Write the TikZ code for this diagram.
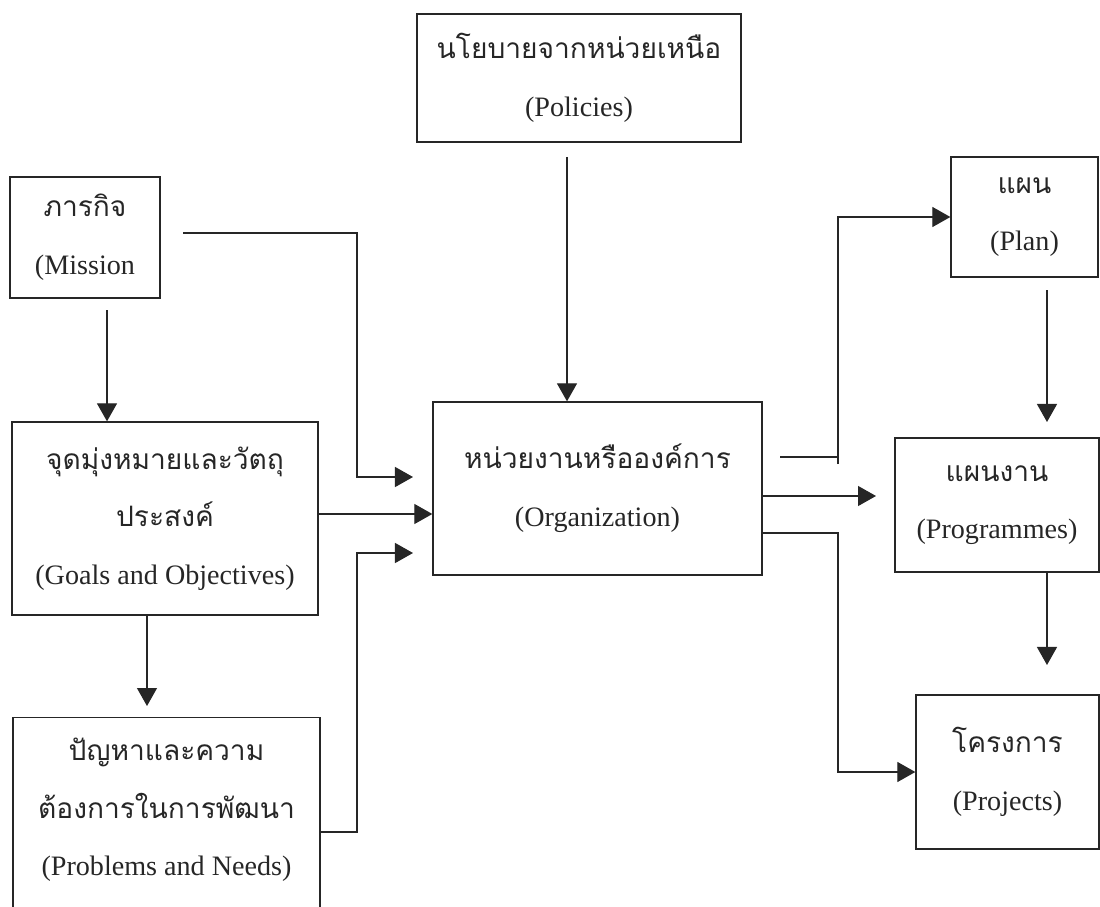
\documentclass[tikz,border=0pt]{standalone}
\usepackage{fontspec}
\setmainfont{Liberation Serif}
\newfontfamily\thaifont[Script=Thai]{Loma}
\usetikzlibrary{arrows.meta}
\tikzset{
  box/.style={draw, inner sep=0pt, align=center, font=\fontsize{20}{41}\selectfont},
  arr/.style={-{Triangle[length=0.45cm,width=0.5cm]}}
}
\begin{document}
\begin{tikzpicture}[x=0.025cm, y=-0.025cm, line width=0.9pt, color=black!85]
      \useasboundingbox (0,0) rectangle (1100,907);
      \node[box, minimum width=8.1cm, minimum height=3.2cm] (pol) at (579,78)
        {{\thaifont นโยบายจากหน่วยเหนือ}\\(Policies)};
      \node[box, minimum width=8.225cm, minimum height=4.325cm] (org) at (597.5,488.5)
        {{\thaifont หน่วยงานหรือองค์การ}\\(Organization)};
      \node[box, minimum width=3.75cm, minimum height=3.025cm] (mis) at (85,237.5)
        {{\thaifont ภารกิจ}\\(Mission};
      \node[box, minimum width=7.65cm, minimum height=4.825cm] (goal) at (165,518.5)
        {{\thaifont จุดมุ่งหมายและวัตถุ}\\{\thaifont ประสงค์}\\(Goals and Objectives)};
      \node[box, minimum width=7.675cm, anchor=north, text height=3.95cm, text depth=2cm] (prob) at (166.5,717)
        {{\thaifont ปัญหาและความ}\\{\thaifont ต้องการในการพัฒนา}\\(Problems and Needs)};
      \node[box, minimum width=3.675cm, minimum height=3cm] (plan) at (1024.5,217)
        {{\thaifont แผน}\\(Plan)};
      \node[box, minimum width=5.1cm, minimum height=3.35cm] (prog) at (997,505)
        {{\thaifont แผนงาน}\\(Programmes)};
      \node[box, minimum width=4.575cm, minimum height=3.85cm] (proj) at (1007.5,772)
        {{\thaifont โครงการ}\\(Projects)};
      \coordinate (polout) at (567,157);
      \coordinate (misout) at (183,233);
      \coordinate (misdown) at (107,310);
      \coordinate (probin) at (147,706);
      \coordinate (orgin1) at (413,477);
      \coordinate (orgin3) at (413,553);
      \coordinate (orgup) at (780,457);
      \coordinate (progin) at (876,496);
      \coordinate (planout) at (1047,290);
      \coordinate (progtop) at (1047,422);
      \coordinate (projtop) at (1047,665);
      \begin{scope}[arr]
        \draw (polout) to (org.north -| polout);
        \draw (misdown) to (goal.north -| misdown);
        \draw (goal.south -| probin) to (probin);
        \draw (misout) -| (357,477) -- (orgin1);
        \draw (goal.east |- 0,514) to (org.west |- 0,514);
        \draw (prob.east |- 0,832) -| (357,553) -- (orgin3);
        \draw (838,464) |- (plan.west);
        \draw (org.east |- progin) to (progin);
        \draw (org.east |- 0,533) -| (838,772) -- (proj.west);
        \draw (planout) to (progtop);
        \draw (prog.south -| projtop) to (projtop);
      \end{scope}
      \draw (orgup) -- (838,457);
    \end{tikzpicture}
\end{document}
